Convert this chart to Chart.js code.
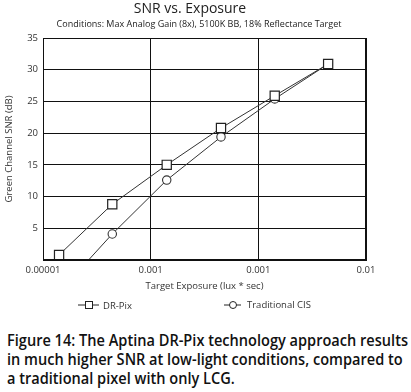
<!DOCTYPE html>
<html>
<head>
<meta charset="utf-8">
<script src="https://cdn.jsdelivr.net/npm/chart.js@4.4.1/dist/chart.umd.min.js"></script>
<style>
  html, body { margin:0; padding:0; background:#fff; width:411px; height:392px; overflow:hidden; }
  #wrap { position:absolute; left:0; top:0; width:411px; height:320px; }
  #cap { position:absolute; left:7px; top:330px; font-family:"Open Sans", sans-serif; font-weight:600; font-size:17px; line-height:19px; color:#111; white-space:nowrap; transform-origin:0 0; }
  #cap div { display:block; }
  #cap span { display:inline-block; }
</style>
</head>
<body>
<div id="wrap"><canvas id="c" width="411" height="320"></canvas></div>
<div id="cap"></div>
<script>
// ---- data ----
const chartTitle = "SNR vs. Exposure";
const chartSubtitle = "Conditions: Max Analog Gain (8x), 5100K BB, 18% Reflectance Target";
const xAxisTitle = "Target Exposure (lux * sec)";
const yAxisTitle = "Green Channel SNR (dB)";
const exposure = [1.41e-5, 4.4e-5, 1.41e-4, 4.5e-4, 1.42e-3, 4.45e-3];
const drPixSNR = [0.8, 8.8, 15.0, 20.8, 25.9, 30.9];
const traditionalSNR = [-5.1, 4.1, 12.6, 19.4, 25.4, 30.9];
const seriesNames = ["DR-Pix", "Traditional CIS"];
const xTickValues = [1e-5, 1e-4, 1e-3, 1e-2];
const xTickLabels = ["0.00001", "0.001", "0.001", "0.01"];
const yTickValues = [5, 10, 15, 20, 25, 30, 35];
const captionLines = [
  "Figure 14: The Aptina DR-Pix technology approach results",
  "in much higher SNR at low-light conditions, compared to",
  "a traditional pixel with only LCG."
];

// caption
const cap = document.getElementById('cap');
const spans = captionLines.map(t => {
  const d = document.createElement('div');
  const s = document.createElement('span');
  s.textContent = t; d.appendChild(s); cap.appendChild(d); return s;
});
const widest = Math.max(...spans.map(s => s.getBoundingClientRect().width));
cap.style.transform = 'scaleX(' + (401 / widest) + ')';

const FONT = '"Open Sans", sans-serif';

const decor = {
  id: 'decor',
  afterDraw(chart) {
    const ctx = chart.ctx;
    ctx.save();
    ctx.fillStyle = '#222';
    ctx.textAlign = 'center';
    ctx.textBaseline = 'middle';
    ctx.font = '14px ' + FONT;
    ctx.fillText(chartTitle, 190, 9);
    ctx.font = '9px ' + FONT;
    ctx.fillText(chartSubtitle, 199, 24);
    // legend
    const ly = 305;
    ctx.strokeStyle = '#222';
    ctx.lineWidth = 1;
    ctx.beginPath(); ctx.moveTo(78, ly); ctx.lineTo(99, ly); ctx.stroke();
    ctx.fillStyle = '#fff';
    ctx.fillRect(85, ly - 4, 8, 8);
    ctx.strokeRect(85.5, ly - 3.5, 7, 7);
    ctx.beginPath(); ctx.moveTo(224, ly); ctx.lineTo(241, ly); ctx.stroke();
    ctx.beginPath(); ctx.arc(233, ly, 3.5, 0, Math.PI * 2); ctx.fill(); ctx.stroke();
    ctx.fillStyle = '#333';
    ctx.textAlign = 'left';
    ctx.font = '9.5px ' + FONT;
    ctx.fillText(seriesNames[0], 103, ly + 1);
    ctx.fillText(seriesNames[1], 247, ly);
    ctx.restore();
  }
};

new Chart(document.getElementById('c'), {
  type: 'line',
  data: {
    datasets: [
      {
        label: seriesNames[0],
        data: exposure.map((x, i) => ({ x, y: drPixSNR[i] })),
        borderColor: '#333', borderWidth: 1,
        pointStyle: 'rect', pointRadius: 6.5, pointHoverRadius: 6.5,
        pointBackgroundColor: '#fff', pointBorderColor: '#222', pointBorderWidth: 1.2,
        tension: 0
      },
      {
        label: seriesNames[1],
        data: exposure.map((x, i) => ({ x, y: traditionalSNR[i] })),
        borderColor: '#333', borderWidth: 1,
        pointStyle: 'circle', pointRadius: 4.2, pointHoverRadius: 4.2,
        pointBackgroundColor: '#fff', pointBorderColor: '#333', pointBorderWidth: 1.1,
        tension: 0
      }
    ]
  },
  options: {
    responsive: false,
    animation: false,
    events: [],
    layout: { padding: { top: 38, right: 45, left: 0, bottom: 28 } },
    plugins: { legend: { display: false }, title: { display: false }, tooltip: { enabled: false } },
    scales: {
      x: {
        type: 'logarithmic',
        min: xTickValues[0], max: xTickValues[xTickValues.length - 1],
        afterBuildTicks: s => { s.ticks = xTickValues.map(v => ({ value: v })); },
        afterFit: s => { s.height = 32; },
        ticks: {
          autoSkip: false, maxRotation: 0, padding: 5,
          color: '#333', font: { family: FONT, size: 9.5 },
          callback: (v, i) => xTickLabels[i]
        },
        grid: { color: '#111', lineWidth: 1, drawTicks: false },
        border: { color: '#111', width: 1 },
        title: { display: true, text: xAxisTitle, color: '#333', font: { family: FONT, size: 9.5 }, padding: 0 }
      },
      y: {
        min: 0, max: 35,
        afterBuildTicks: s => { s.ticks = [0].concat(yTickValues).map(v => ({ value: v })); },
        afterFit: s => { s.width = 43; },
        ticks: {
          padding: 5, color: '#333', font: { family: FONT, size: 9.5 },
          callback: v => (v === 0 ? '' : String(v))
        },
        grid: { color: '#111', lineWidth: 1, drawTicks: false },
        border: { color: '#111', width: 1 },
        title: { display: true, text: yAxisTitle, color: '#333', font: { family: FONT, size: 9.5 }, padding: { top: 4, bottom: 0 } }
      }
    }
  },
  plugins: [decor, {
    id: 'frame',
    afterDatasetsDraw(chart) {
      const a = chart.chartArea, ctx = chart.ctx;
      ctx.save(); ctx.strokeStyle = '#111'; ctx.lineWidth = 1;
      ctx.strokeRect(Math.round(a.left) + 0.5, Math.round(a.top) + 0.5, Math.round(a.right - a.left) - 1, Math.round(a.bottom - a.top) - 1);
      ctx.restore();
    }
  }]
});
</script>
</body>
</html>
